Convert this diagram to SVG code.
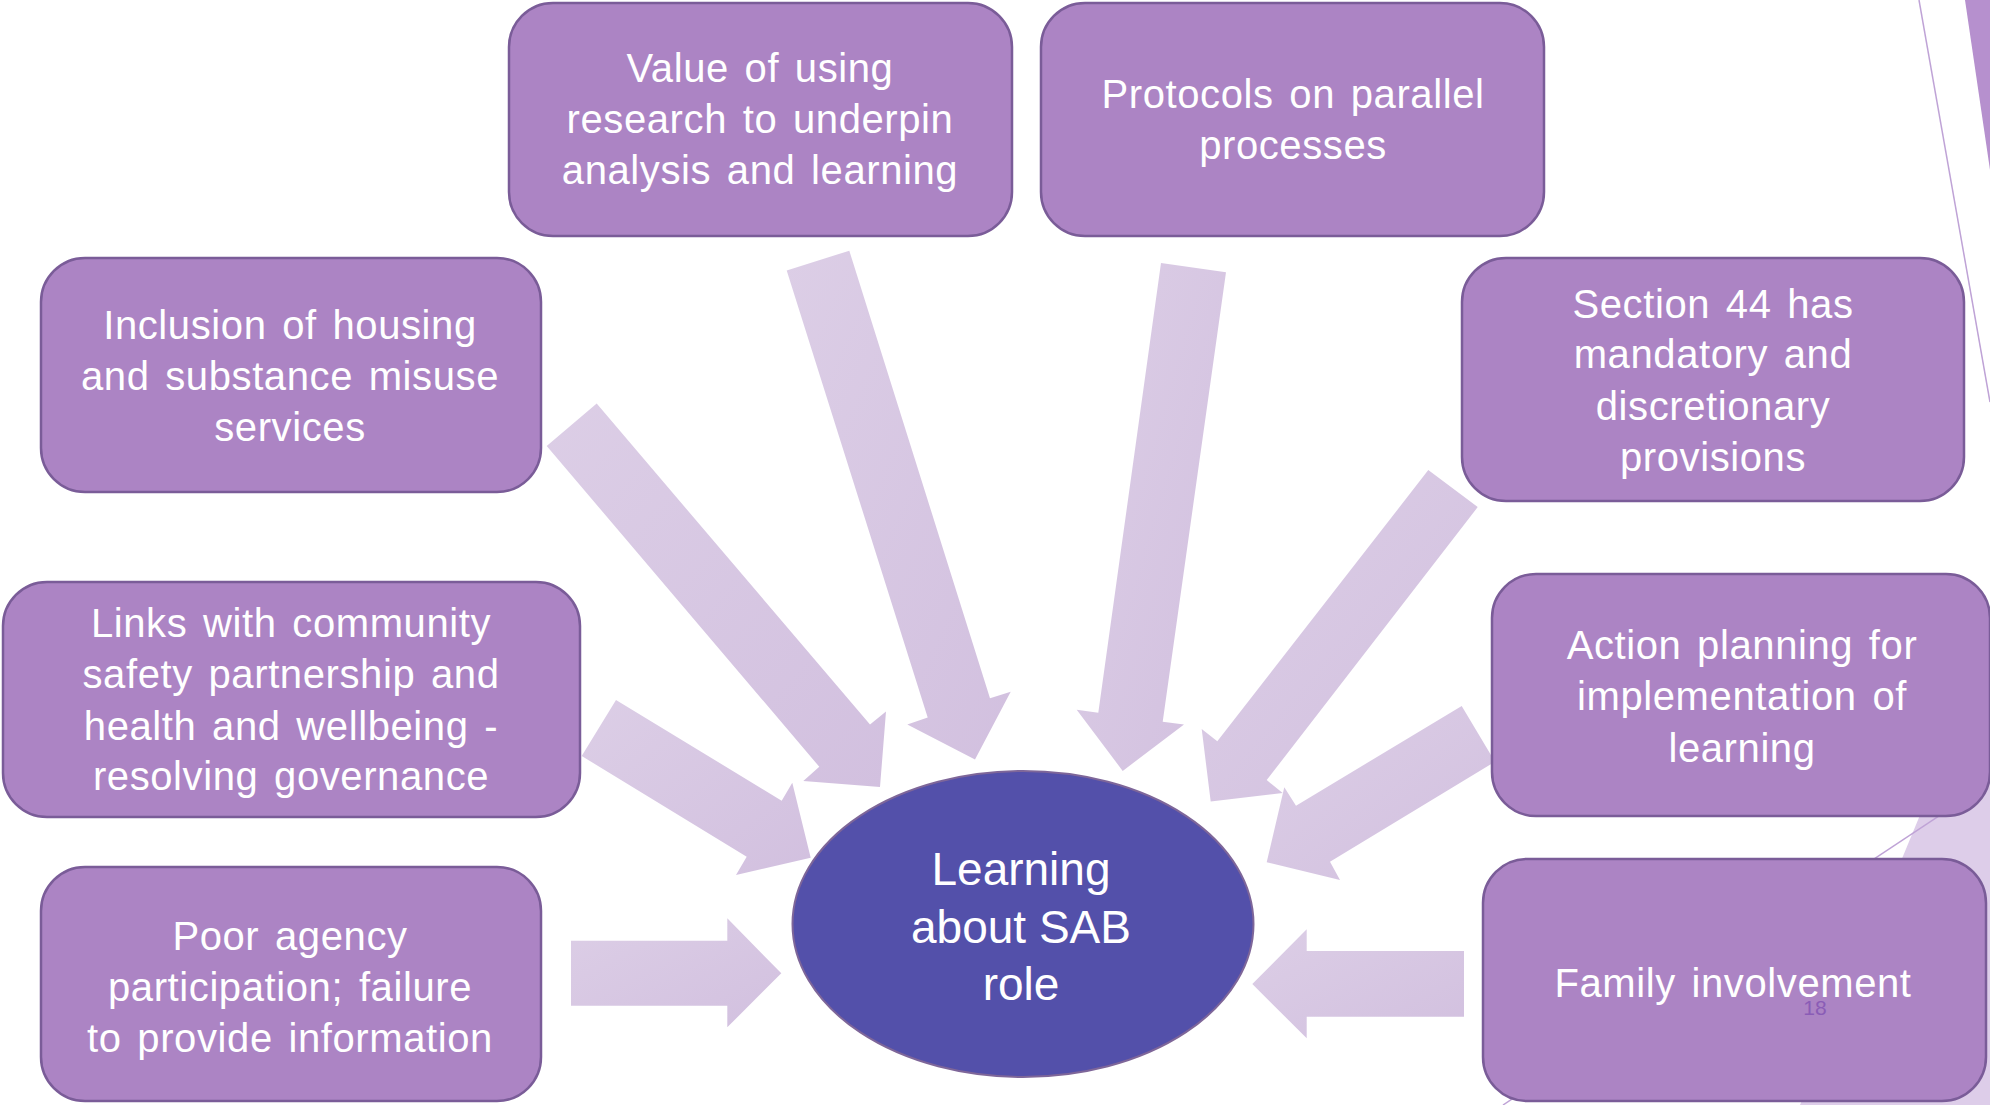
<svg xmlns="http://www.w3.org/2000/svg" width="1990" height="1105" viewBox="0 0 1990 1105">
  <defs>
    <linearGradient id="arrowFill" x1="0" y1="0" x2="1" y2="1">
      <stop offset="0" stop-color="#DCCEE6"/>
      <stop offset="1" stop-color="#D2C0DF"/>
    </linearGradient>
    <style>
      .box { fill: #AC84C4; stroke: #7A5C98; stroke-width: 2.5; }
      .hub { fill: #5350AA; stroke: #7E6699; stroke-width: 2; }
      .arrow { fill: url(#arrowFill); stroke: none; }
      .label { font-family: "Liberation Sans", Arial, sans-serif; font-size: 40px; fill: #FFFFFF; text-anchor: middle; letter-spacing: 0.6px; word-spacing: 4px; }
      .hubLabel { font-family: "Liberation Sans", Arial, sans-serif; font-size: 46px; fill: #FFFFFF; text-anchor: middle; }
      .deco-line { fill: none; stroke: #BFA3D6; stroke-width: 1.5; }
      .page { font-family: "Liberation Sans", Arial, sans-serif; font-size: 21px; fill: #8A5CB6; text-anchor: middle; }
    </style>
  </defs>

  <rect x="0" y="0" width="1990" height="1105" fill="#FFFFFF"/>

  <!-- theme facets along the right edge -->
  <g id="facets">
    <polygon points="1990,646 1990,1105 1800,1105" fill="#DDCDE9"/>
    <polygon points="1965,0 1990,0 1990,170" fill="#B690CE"/>
    <line class="deco-line" x1="1919" y1="0" x2="1990" y2="402"/>
    <line class="deco-line" x1="1990" y1="782" x2="1503" y2="1105"/>
  </g>

  <!-- block arrows pointing at the hub -->
  <g id="connectors">
    <polygon class="arrow" points="786.7,270.4 849.3,250.7 990,698.2 1010.7,691.8 975,759.6 907.3,724.6 927.7,717.5"/>
    <polygon class="arrow" points="1161,262.9 1226,272.2 1162.7,721.7 1184,724.6 1122.7,770.9 1076.7,709.8 1098.3,712.8"/>
    <polygon class="arrow" points="546.7,446 596.7,403.6 870,724.6 886,711.4 880,787.1 803.3,781.1 819.3,766.8"/>
    <polygon class="arrow" points="1428.3,470.1 1477.7,507.1 1266.7,780.1 1282.7,793.1 1210.7,801.6 1201.7,729.1 1217.3,741.3"/>
    <polygon class="arrow" points="616,700 781.7,800.7 792.3,782.7 810.7,857.7 736,875 746.7,856.7 581.7,756"/>
    <polygon class="arrow" points="1461.7,706 1495,761.7 1330,861.7 1340,880 1266.7,862.3 1284.3,787.3 1296,805.7"/>
    <polygon class="arrow" points="571,940.7 727.3,940.7 727.3,918.3 781.3,973.3 727.3,1027.3 727.3,1005.7 571,1005.7"/>
    <polygon class="arrow" points="1464,951 1464,1016.7 1306.7,1016.7 1306.7,1038.3 1252.3,984 1306.7,929.3 1306.7,951"/>
  </g>

  <g id="node-value">
    <rect class="box" x="509" y="3" width="503" height="233" rx="44"/>
    <text class="label"><tspan x="760" y="82">Value of using</tspan><tspan x="760" y="133">research to underpin</tspan><tspan x="760" y="184">analysis and learning</tspan></text>
  </g>

  <g id="node-protocols">
    <rect class="box" x="1041" y="3" width="503" height="233" rx="44"/>
    <text class="label"><tspan x="1293" y="108">Protocols on parallel</tspan><tspan x="1293" y="159">processes</tspan></text>
  </g>

  <g id="node-inclusion">
    <rect class="box" x="41" y="258" width="500" height="234" rx="44"/>
    <text class="label"><tspan x="290" y="339">Inclusion of housing</tspan><tspan x="290" y="390">and substance misuse</tspan><tspan x="290" y="441">services</tspan></text>
  </g>

  <g id="node-section44">
    <rect class="box" x="1462" y="258" width="502" height="243" rx="44"/>
    <text class="label"><tspan x="1713" y="318">Section 44 has</tspan><tspan x="1713" y="368">mandatory and</tspan><tspan x="1713" y="420">discretionary</tspan><tspan x="1713" y="471">provisions</tspan></text>
  </g>

  <g id="node-links">
    <rect class="box" x="3" y="582" width="577" height="235" rx="44"/>
    <text class="label"><tspan x="291" y="637">Links with community</tspan><tspan x="291" y="688">safety partnership and</tspan><tspan x="291" y="740">health and wellbeing -</tspan><tspan x="291" y="790">resolving governance</tspan></text>
  </g>

  <g id="node-action">
    <rect class="box" x="1492" y="574" width="498" height="242" rx="44"/>
    <text class="label"><tspan x="1742" y="659">Action planning for</tspan><tspan x="1742" y="710">implementation of</tspan><tspan x="1742" y="762">learning</tspan></text>
  </g>

  <g id="node-poor">
    <rect class="box" x="41" y="867" width="500" height="234" rx="44"/>
    <text class="label"><tspan x="290" y="950">Poor agency</tspan><tspan x="290" y="1001">participation; failure</tspan><tspan x="290" y="1052">to provide information</tspan></text>
  </g>

  <g id="node-family">
    <rect class="box" x="1483" y="859" width="503" height="242" rx="44"/>
    <text class="label"><tspan x="1733" y="997">Family involvement</tspan></text>
  </g>

  <g id="node-hub">
    <ellipse class="hub" cx="1023" cy="924" rx="230.5" ry="153"/>
    <text class="hubLabel"><tspan x="1021" y="885">Learning</tspan><tspan x="1021" y="943">about SAB</tspan><tspan x="1021" y="1000">role</tspan></text>
  </g>

  <text class="page" x="1815" y="1015">18</text>
</svg>
